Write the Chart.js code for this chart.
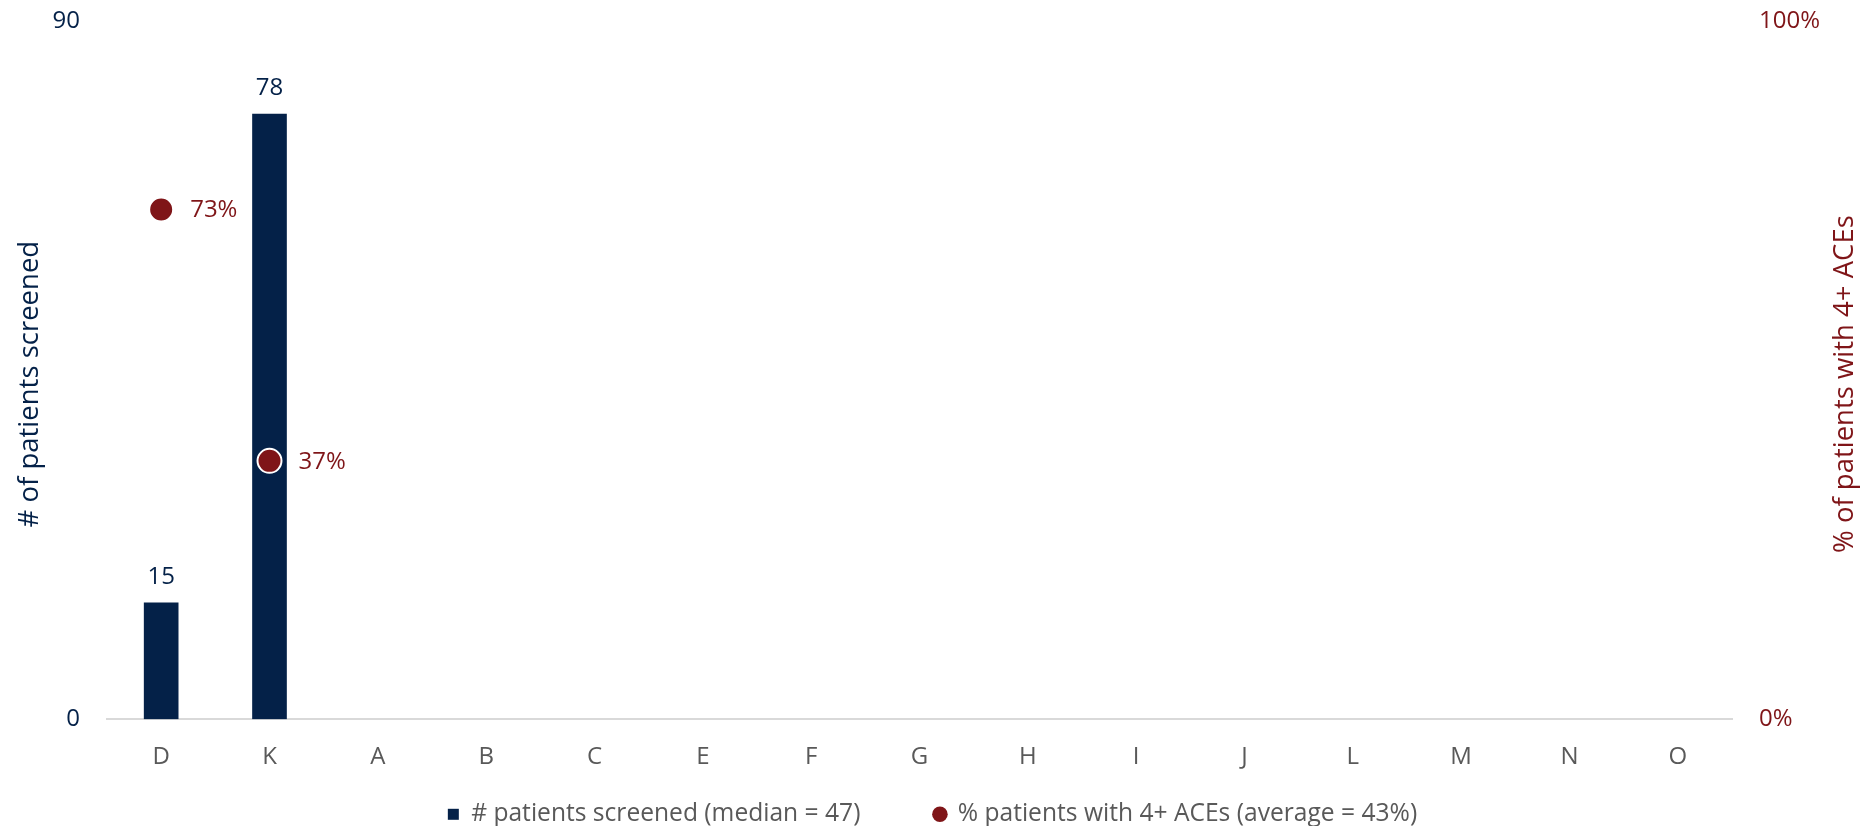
<!DOCTYPE html>
<html><head><meta charset="utf-8">
<script src="https://cdn.jsdelivr.net/npm/chart.js@4/dist/chart.umd.min.js"></script>
<style>html,body{margin:0;padding:0;background:#fff;overflow:hidden}#wrap{width:1865px;height:829px;position:relative}</style>
</head><body><div id="wrap"><canvas id="c"></canvas></div>
<script>
const categories = ['D','K','A','B','C','E','F','G','H','I','J','L','M','N','O'];
const patientsScreened = [15,78,null,null,null,null,null,null,null,null,null,null,null,null,null];
const pctFourPlusAces = [0.73,0.37,null,null,null,null,null,null,null,null,null,null,null,null,null];
const leftTicks = [0, 90];
const rightTicks = [0, 1];
const seriesNames = ['# patients screened (median = 47)', '% patients with 4+ ACEs (average = 43%)'];
const axisTitles = ['# of patients screened', '% of patients with 4+ ACEs'];

const NAVY = '#042148';
const RED = '#7f1518';
const GREY = '#595959';
const FONT = '"Open Sans", sans-serif';

const labelPlugin = {
  id: 'labels',
  beforeLayout(chart) {
    const lg = chart.legend;
    if (lg && !lg._patched) {
      const orig = lg.fit.bind(lg);
      lg.fit = function () { orig(); this.height = 33; };
      lg._patched = true;
    }
  },
  afterLayout(chart) {
    const lg = chart.legend;
    if (lg) { lg.top = 728; lg.bottom = 728 + 98; }
  },
  afterDatasetsDraw(chart) {
    const ctx = chart.ctx;
    ctx.save();
    ctx.font = '24px ' + FONT;
    const barMeta = chart.getDatasetMeta(0);
    ctx.fillStyle = NAVY; ctx.textAlign = 'center'; ctx.textBaseline = 'alphabetic';
    barMeta.data.forEach((el, i) => {
      const v = patientsScreened[i];
      if (v === null) return;
      ctx.fillText(String(v), el.x, el.y - 19);
    });
    const ptMeta = chart.getDatasetMeta(1);
    ctx.fillStyle = RED; ctx.textAlign = 'left'; ctx.textBaseline = 'middle';
    ptMeta.data.forEach((el, i) => {
      const v = pctFourPlusAces[i];
      if (v === null) return;
      ctx.fillText(Math.round(v * 100) + '%', el.x + 29, el.y + 1);
    });
    ctx.restore();
  },
  afterDraw(chart) {
    const ctx = chart.ctx; const ca = chart.chartArea;
    const cy = (ca.top + ca.bottom) / 2 + 14;
    ctx.save();
    ctx.font = '27.5px ' + FONT;
    ctx.textAlign = 'center'; ctx.textBaseline = 'middle';
    ctx.fillStyle = NAVY;
    ctx.translate(30, cy); ctx.rotate(-Math.PI / 2); ctx.fillText(axisTitles[0], 0, 0);
    ctx.setTransform(1,0,0,1,0,0);
    ctx.fillStyle = RED;
    ctx.translate(1845, cy); ctx.rotate(-Math.PI / 2); ctx.fillText(axisTitles[1], 0, 0);
    ctx.restore();
  }
};

function fitVertical(width) {
  return function (s) { s.width = width; s.paddingTop = 0; s.paddingBottom = 0; };
}

new Chart(document.getElementById('c'), {
  data: {
    labels: categories,
    datasets: [
      { type: 'bar', label: seriesNames[0], data: patientsScreened, yAxisID: 'y',
        backgroundColor: NAVY, barThickness: 34, order: 2, pointStyle: 'rect' },
      { type: 'line', label: seriesNames[1], data: pctFourPlusAces, yAxisID: 'y1',
        showLine: false, pointStyle: 'circle', pointRadius: 12, pointBorderWidth: 2,
        pointBackgroundColor: RED, pointBorderColor: '#ffffff', backgroundColor: RED, borderColor: RED, order: 1 }
    ]
  },
  options: {
    responsive: true, maintainAspectRatio: false, animation: false,
    layout: { autoPadding: false, padding: { top: 21, left: 0, right: 0, bottom: 0 } },
    plugins: {
      tooltip: { enabled: false },
      legend: {
        position: 'bottom',
        labels: {
          usePointStyle: true, boxWidth: 11, boxHeight: 11, padding: 74,
          color: GREY, font: { family: FONT, size: 24.6 },
          sort: (a, b) => a.datasetIndex - b.datasetIndex,
          generateLabels(chart) {
            return chart.data.datasets.map((ds, i) => ({
              text: ds.label, fillStyle: i === 0 ? NAVY : RED, strokeStyle: i === 0 ? NAVY : RED,
              lineWidth: 0, pointStyle: i === 0 ? 'rect' : 'circle', datasetIndex: i, hidden: false, fontColor: GREY
            }));
          }
        }
      }
    },
    scales: {
      x: {
        type: 'category',
        grid: { display: false, drawTicks: false },
        border: { display: true, color: '#d9d9d9', width: 2 },
        ticks: { display: true, color: GREY, font: { family: FONT, size: 24 }, padding: 24, maxRotation: 0, autoSkip: false }
      },
      y: {
        position: 'left', min: 0, max: 90,
        grid: { display: false, drawTicks: false }, border: { display: false },
        afterBuildTicks(s) { s.ticks = leftTicks.map(v => ({ value: v })); },
        ticks: { color: NAVY, font: { family: FONT, size: 24 }, padding: 27 },
        afterFit: fitVertical(107)
      },
      y1: {
        position: 'right', min: 0, max: 1,
        grid: { display: false, drawTicks: false }, border: { display: false },
        afterBuildTicks(s) { s.ticks = rightTicks.map(v => ({ value: v })); },
        ticks: { color: RED, font: { family: FONT, size: 24 }, padding: 27, callback: v => Math.round(v * 100) + '%' },
        afterFit: fitVertical(133)
      }
    }
  },
  plugins: [labelPlugin]
});
</script></body></html>
